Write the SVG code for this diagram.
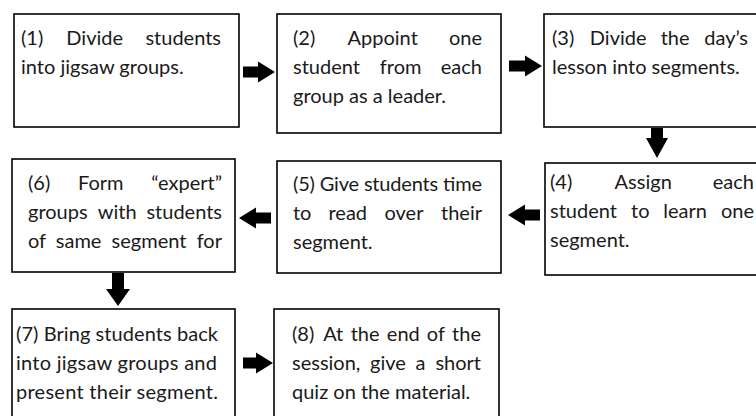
<svg xmlns="http://www.w3.org/2000/svg" width="756" height="416" viewBox="0 0 756 416">
<style>
.box{fill:#fff;stroke:#000;stroke-width:1.6}
.t{font-family:Lato,"Open Sans","Liberation Sans",sans-serif;font-size:20px;fill:#1a1a1a}
.e{text-anchor:end}
.m{text-anchor:middle}
.arr{fill:#000}
</style>
<rect width="756" height="416" fill="#fff"/>
<g id="connectors">
<path class="arr" d="M243 66.5H258V61.5L275 72L258 82.5V77.5H243Z"/>
<path class="arr" d="M509 60.5H525V55.5L542 66L525 76.5V71.5H509Z"/>
<path class="arr" d="M651 128H663V138H668L657 158L646 138H651Z"/>
<path class="arr" d="M540 209.5H525V204.5L508 215L525 225.5V220.5H540Z"/>
<path class="arr" d="M271 212.5H256V207.5L239 218L256 228.5V223.5H271Z"/>
<path class="arr" d="M112 273H124V289H130L118 306L106 289H112Z"/>
<path class="arr" d="M243 357.5H256V352.5L273 363L256 373.5V368.5H243Z"/>
</g>
<g id="node1">
<rect class="box" x="14" y="14" width="225" height="113"/>
<text class="t" x="21" y="45">(1)</text><text class="t m" x="94.7" y="45">Divide</text><text class="t e" x="221" y="45">students</text>
<text class="t" x="21" y="74">into jigsaw groups.</text>
</g>
<g id="node2">
<rect class="box" x="277" y="14" width="224" height="119"/>
<text class="t" x="293" y="45">(2)</text><text class="t m" x="382.7" y="45">Appoint</text><text class="t e" x="482" y="45">one</text>
<text class="t" x="293" y="74">student</text><text class="t m" x="400.7" y="74">from</text><text class="t e" x="482" y="74">each</text>
<text class="t" x="293" y="103">group as a leader.</text>
</g>
<g id="node3">
<rect class="box" x="544" y="14" width="230" height="113"/>
<text class="t" x="552" y="45">(3)</text><text class="t m" x="618.2" y="45">Divide</text><text class="t m" x="675.1" y="45">the</text><text class="t e" x="748" y="45">day’s</text>
<text class="t" x="552" y="74">lesson into segments.</text>
</g>
<g id="node4">
<rect class="box" x="545" y="163" width="230" height="112"/>
<text class="t" x="550" y="189">(4)</text><text class="t m" x="643.2" y="189">Assign</text><text class="t e" x="754" y="189">each</text>
<text class="t" x="550" y="218">student</text><text class="t m" x="640.3" y="218">to</text><text class="t m" x="685" y="218">learn</text><text class="t e" x="754" y="218">one</text>
<text class="t" x="550" y="247">segment.</text>
</g>
<g id="node5">
<rect class="box" x="277" y="161" width="224" height="112"/>
<text class="t" x="293" y="191" textLength="189" lengthAdjust="spacing">(5) Give students time</text>
<text class="t" x="293" y="220">to</text><text class="t m" x="347.8" y="220">read</text><text class="t m" x="404" y="220">over</text><text class="t e" x="482" y="220">their</text>
<text class="t" x="293" y="249">segment.</text>
</g>
<g id="node6">
<rect class="box" x="12" y="159" width="223" height="113"/>
<text class="t" x="28" y="190">(6)</text><text class="t m" x="100.7" y="190">Form</text><text class="t e" x="222" y="190">“expert”</text>
<text class="t" x="28" y="219">groups</text><text class="t m" x="117.2" y="219">with</text><text class="t e" x="222" y="219">students</text>
<text class="t" x="28" y="248">of</text><text class="t m" x="78.6" y="248">same</text><text class="t m" x="149" y="248">segment</text><text class="t e" x="222" y="248">for</text>
</g>
<g id="node7">
<rect class="box" x="12" y="309" width="223" height="120"/>
<text class="t" x="16" y="341" textLength="202" lengthAdjust="spacing">(7) Bring students back</text>
<text class="t" x="16" y="370" textLength="201" lengthAdjust="spacing">into jigsaw groups and</text>
<text class="t" x="16" y="399" textLength="202" lengthAdjust="spacing">present their segment.</text>
</g>
<g id="node8">
<rect class="box" x="274" y="309" width="225" height="120"/>
<text class="t" x="292" y="341">(8)</text><text class="t m" x="333.2" y="341">At</text><text class="t m" x="365.1" y="341">the</text><text class="t m" x="403.3" y="341">end</text><text class="t m" x="435.9" y="341">of</text><text class="t e" x="481" y="341">the</text>
<text class="t" x="292" y="370">session,</text><text class="t m" x="388" y="370">give</text><text class="t m" x="420.4" y="370">a</text><text class="t e" x="481" y="370">short</text>
<text class="t" x="292" y="399">quiz on the material.</text>
</g>
</svg>
